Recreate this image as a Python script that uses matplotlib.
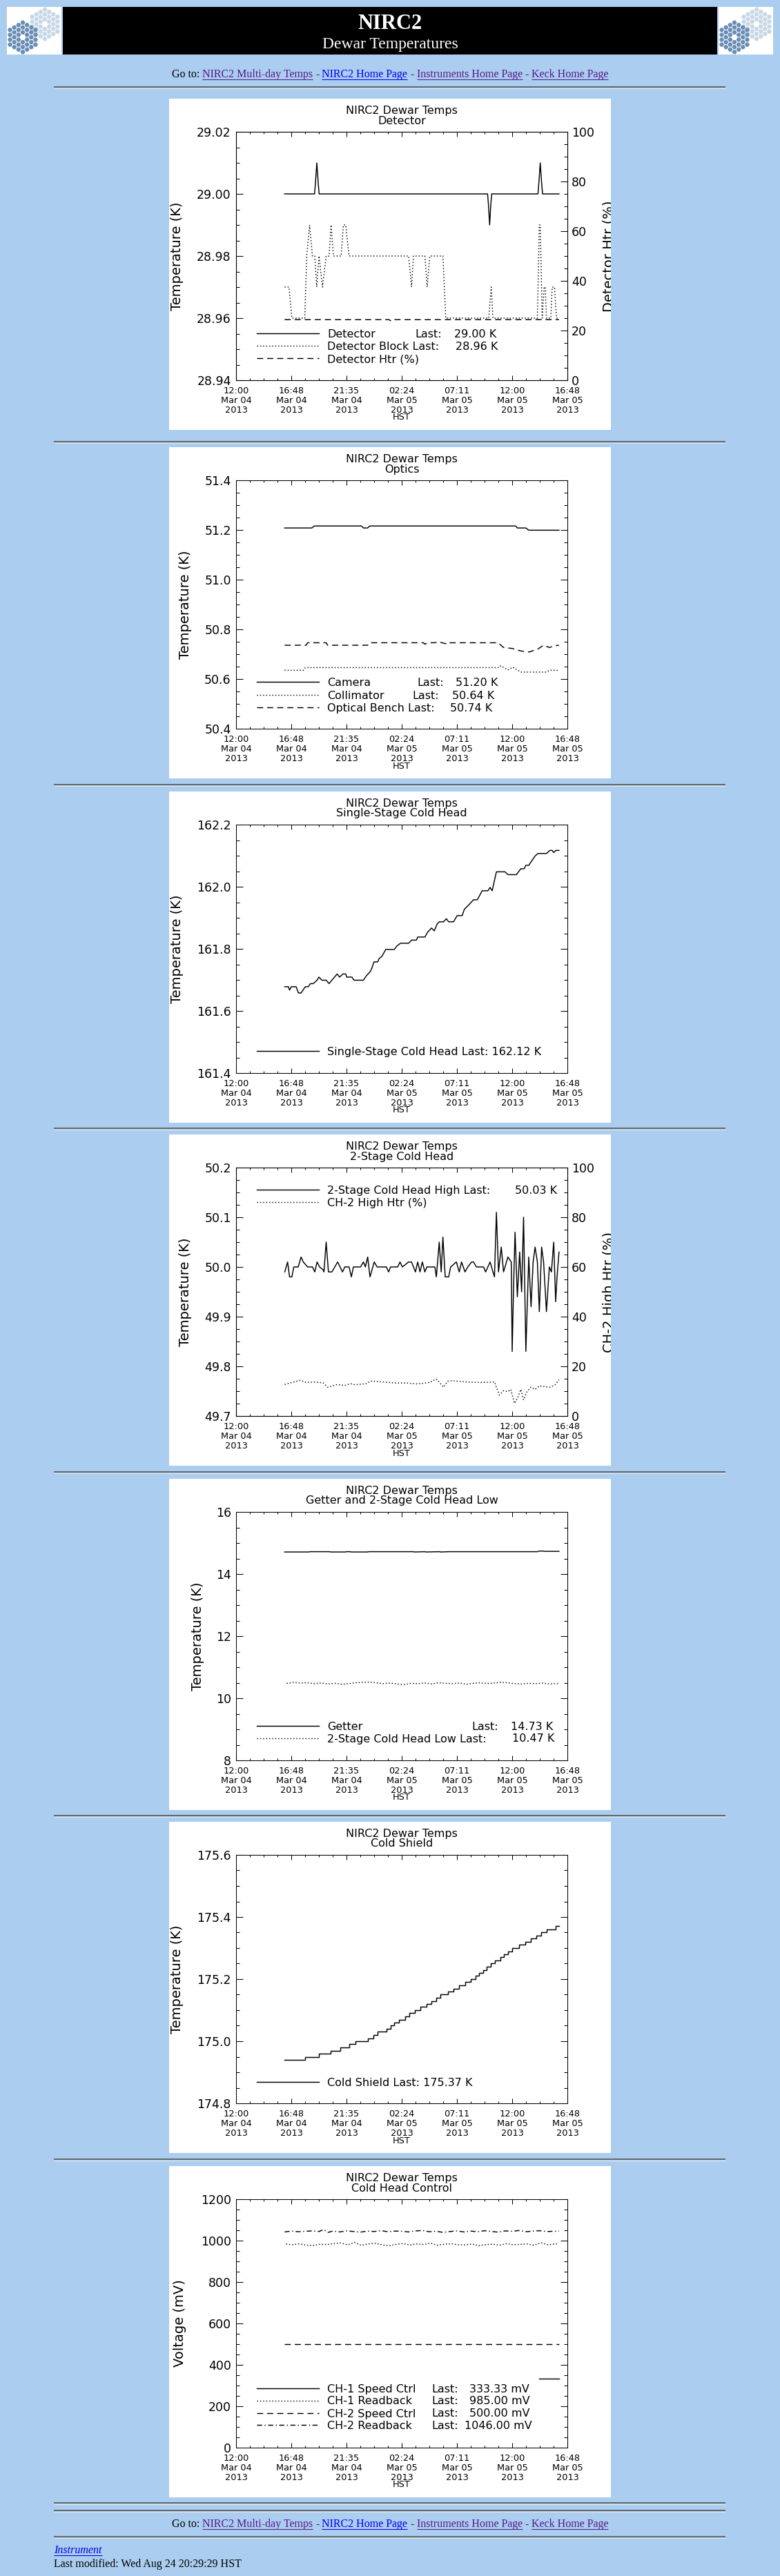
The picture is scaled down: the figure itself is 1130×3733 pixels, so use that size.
import numpy as np
import matplotlib
matplotlib.use("Agg")
import matplotlib.pyplot as plt
from matplotlib.patches import Rectangle, RegularPolygon
from matplotlib.ticker import MultipleLocator

plt.rcParams['font.family'] = ['DejaVu Sans']

W, H = 1130, 3733
BG = "#abcdef"
SERIF = "Liberation Serif"
PURPLE = "#551a8b"
BLUE = "#0000ee"

# time axis: hours after 12:00 Mar 04 2013 (HST)
x_ticks = [0, 4.8, 9.6, 14.4, 19.2, 24.0, 28.8]
x_labels = ["12:00\nMar 04\n2013", "16:48\nMar 04\n2013", "21:35\nMar 04\n2013",
            "02:24\nMar 05\n2013", "07:11\nMar 05\n2013", "12:00\nMar 05\n2013",
            "16:48\nMar 05\n2013"]

# ---- panel 1: detector ----
det_t = [4.22, 6.82, 6.90, 7.02, 7.14, 7.22, 21.86, 21.94, 22.04, 22.14, 22.22,
         26.24, 26.32, 26.44, 26.56, 26.64, 28.07]
det_v = [29.0, 29.0, 29.0035, 29.01, 29.0035, 29.0, 29.0, 28.9965, 28.99, 28.9965, 29.0,
         29.0, 29.0035, 29.01, 29.0035, 29.0, 29.0]
block_t = [4.22, 13.30, 13.50, 13.80, 28.07]
block_v = [28.9595, 28.9595, 28.9590, 28.9595, 28.9595]
htr_t = [4.22, 4.60, 4.85, 5.97, 6.14, 6.39, 6.64, 6.84, 7.01, 7.21,
         7.51, 7.83, 8.08, 8.26, 8.46, 9.13, 9.33, 9.53, 9.82, 15.00,
         15.25, 15.42, 16.41, 16.61, 16.84, 17.98, 18.23, 21.96, 22.18, 22.33,
         26.19, 26.36, 26.44, 26.61, 26.78, 26.88, 26.98, 27.36, 27.48, 27.68,
         27.85, 28.07]
htr_v = [37.5, 37.5, 25, 25, 50, 62.5, 50, 50, 37.5, 50,
         37.5, 50, 50, 62.5, 50, 50, 62.5, 62.5, 50, 50,
         37.5, 50, 50, 37.5, 50, 50, 25, 25, 37.5, 25,
         25, 62.5, 62.5, 25, 37.5, 37.5, 25, 25, 37.5, 37.5,
         25, 25]

# ---- panel 2: optics ----
cam_t = [4.22, 6.59, 6.79, 10.89, 11.07, 11.44, 11.61, 24.30, 24.45, 25.19, 25.44, 28.07]
cam_v = [51.208, 51.208, 51.216, 51.216, 51.208, 51.208, 51.216, 51.216, 51.208, 51.208,
         51.199, 51.199]
coll_t = [4.22, 5.84, 6.02, 22.88, 23.00, 23.63, 24.05, 24.75, 26.98, 27.23, 28.07]
coll_v = [50.635, 50.635, 50.646, 50.646, 50.653, 50.637, 50.648, 50.628, 50.628, 50.635, 50.635]
bench_t = [4.22, 6.09, 6.22, 7.83, 7.96, 11.44, 11.61, 16.29, 16.41, 16.66, 17.28, 17.53,
           17.91, 18.40, 18.53, 22.76, 23.25, 24.00, 24.75, 25.49, 26.24, 26.73, 27.23,
           27.73, 28.07]
bench_v = [50.736, 50.736, 50.746, 50.746, 50.736, 50.736, 50.746, 50.746, 50.740, 50.746,
           50.746, 50.750, 50.746, 50.740, 50.746, 50.746, 50.727, 50.723, 50.713, 50.709,
           50.721, 50.736, 50.727, 50.734, 50.736]

# ---- panel 3: single-stage cold head ----
ss_t = [4.23, 4.55, 4.65, 4.80, 5.22, 5.42, 5.65, 6.02, 6.27, 6.47,
        6.71, 7.04, 7.21, 7.46, 7.83, 8.08, 8.33, 8.78, 9.00, 9.28,
        9.53, 9.62, 10.07, 10.25, 11.07, 11.32, 11.69, 11.81, 11.99, 12.31,
        12.44, 12.68, 13.01, 13.75, 14.00, 14.30, 15.00, 15.25, 15.67, 15.79,
        16.41, 16.66, 16.99, 17.23, 17.48, 17.66, 18.03, 18.28, 18.48, 18.90,
        19.22, 19.65, 19.85, 20.14, 20.64, 20.97, 21.39, 21.89, 22.08, 22.26,
        22.63, 23.38, 23.63, 24.37, 24.75, 25.04, 25.19, 25.44, 25.99, 26.24,
        26.98, 27.28, 27.48, 27.61, 27.80, 28.07]
ss_v = [161.678, 161.678, 161.667, 161.678, 161.678, 161.658, 161.658, 161.678, 161.678, 161.688,
        161.688, 161.699, 161.709, 161.699, 161.699, 161.688, 161.699, 161.719, 161.709, 161.719,
        161.719, 161.709, 161.709, 161.699, 161.699, 161.713, 161.728, 161.739, 161.758, 161.758,
        161.769, 161.776, 161.798, 161.798, 161.810, 161.818, 161.818, 161.828, 161.828, 161.838,
        161.838, 161.854, 161.867, 161.858, 161.880, 161.887, 161.887, 161.897, 161.887, 161.887,
        161.907, 161.907, 161.928, 161.938, 161.958, 161.958, 161.987, 161.987, 161.998, 161.987,
        162.048, 162.048, 162.039, 162.039, 162.058, 162.058, 162.069, 162.069, 162.099, 162.107,
        162.107, 162.117, 162.117, 162.110, 162.117, 162.117]

# ---- panel 4: 2-stage cold head ----
ch2h_t = [4.23, 4.48, 4.65, 4.85, 5.02, 5.40, 5.65, 5.84, 6.22, 6.64,
          6.84, 7.04, 7.26, 7.54, 7.64, 7.83, 8.03, 8.33, 8.83, 9.25,
          9.45, 9.82, 10.02, 10.20, 10.82, 11.07, 11.24, 11.44, 11.64, 12.01,
          12.26, 13.06, 13.26, 13.43, 14.05, 14.25, 14.45, 15.00, 15.25, 15.59,
          15.79, 15.99, 16.19, 16.41, 16.59, 17.28, 17.41, 17.66, 17.83, 17.98,
          18.18, 18.48, 18.65, 19.15, 19.40, 19.60, 19.90, 20.14, 20.47, 20.64,
          20.89, 21.51, 21.69, 22.08, 22.46, 22.63, 22.81, 23.05, 23.25, 23.63,
          23.92, 24.00, 24.12, 24.25, 24.45, 24.65, 24.82, 24.99, 25.19, 25.44,
          25.64, 25.82, 25.99, 26.19, 26.36, 26.56, 26.73, 26.98, 27.23, 27.41,
          27.61, 27.78, 27.90, 28.07]
ch2h_v = [49.99, 50.01, 49.98, 49.98, 50.00, 50.00, 50.02, 50.01, 50.00, 50.00,
          49.99, 50.01, 50.00, 49.995, 49.99, 50.05, 49.99, 49.99, 50.01, 49.99,
          50.00, 50.00, 49.98, 50.00, 50.00, 50.01, 50.00, 50.02, 49.98, 50.01,
          50.00, 50.00, 49.99, 50.00, 50.00, 50.01, 50.00, 50.01, 50.01, 49.99,
          50.01, 49.99, 50.01, 49.99, 50.00, 50.00, 49.98, 50.05, 49.99, 50.06,
          49.98, 49.98, 50.00, 50.01, 49.99, 50.01, 49.99, 50.00, 50.01, 50.01,
          50.00, 50.00, 49.99, 50.01, 49.98, 50.11, 49.99, 50.04, 49.99, 50.02,
          50.01, 49.83, 49.96, 50.07, 49.94, 50.03, 49.95, 50.10, 49.83, 50.02,
          49.92, 50.01, 50.04, 50.01, 49.91, 50.04, 50.01, 49.91, 50.00, 49.99,
          50.05, 49.93, 49.98, 50.03]
ch2htr_t = [4.23, 4.85, 5.60, 6.09, 6.84, 7.59, 7.96, 8.33, 8.83, 9.45,
            9.95, 10.32, 11.32, 11.69, 12.81, 13.80, 14.80, 15.79, 16.79, 17.41,
            18.03, 18.40, 18.78, 20.02, 21.26, 22.46, 22.88, 23.25, 23.63, 23.88,
            24.20, 24.45, 24.75, 24.99, 25.29, 25.62, 25.99, 26.36, 26.86, 27.36,
            27.73, 28.07]
ch2htr_v = [12.7, 13.5, 14.4, 13.5, 13.7, 13.3, 11.6, 12.1, 12.7, 12.3,
            13.0, 12.6, 13.0, 14.1, 13.7, 13.3, 13.3, 12.9, 13.5, 14.9,
            11.6, 14.0, 14.2, 13.7, 13.5, 13.7, 8.4, 10.2, 9.8, 10.7,
            5.1, 7.0, 10.7, 6.5, 9.8, 11.6, 10.7, 12.1, 11.8, 11.6,
            12.6, 14.6]

# ---- panel 5: getter / 2-stage low ----
getter_t = [4.22, 6.30, 6.45, 8.10, 8.25, 9.50, 9.60, 9.90, 10.00, 11.40, 11.55, 15.40,
            15.50, 16.40, 16.50, 17.70, 17.80, 18.50, 26.20, 26.35, 26.70, 26.85, 28.07]
getter_v = [14.71, 14.71, 14.72, 14.72, 14.71, 14.71, 14.72, 14.72, 14.71, 14.71, 14.72, 14.72,
            14.71, 14.72, 14.71, 14.72, 14.71, 14.72, 14.72, 14.74, 14.74, 14.73, 14.73]
low_t = [4.40, 5.00, 5.60, 6.20, 6.80, 7.40, 8.00, 8.60, 9.20, 9.80,
         10.40, 11.00, 11.60, 12.20, 12.80, 13.40, 14.00, 14.60, 15.20, 15.80,
         16.40, 17.00, 17.60, 18.20, 18.80, 19.40, 20.00, 20.60, 21.20, 21.80,
         22.40, 23.00, 23.60, 24.20, 24.80, 25.40, 26.00, 26.60, 27.20, 27.80, 28.07]
low_v = [10.48, 10.51, 10.49, 10.50, 10.47, 10.49, 10.46, 10.48, 10.45, 10.47,
         10.50, 10.51, 10.52, 10.50, 10.47, 10.49, 10.46, 10.44, 10.48, 10.47,
         10.49, 10.46, 10.50, 10.48, 10.47, 10.49, 10.45, 10.48, 10.50, 10.47,
         10.49, 10.51, 10.50, 10.47, 10.46, 10.48, 10.47, 10.49, 10.46, 10.47, 10.47]

# ---- panel 6: cold shield ----
shield_t = [4.22, 6.02, 7.21, 8.21, 9.08, 9.82, 10.37, 11.44, 11.94, 12.31,
            13.06, 13.43, 13.75, 14.18, 14.67, 15.05, 15.54, 16.04, 16.54, 16.99,
            17.41, 17.78, 18.40, 18.90, 19.40, 19.90, 20.39, 20.82, 21.14, 21.46,
            21.76, 22.13, 22.51, 22.96, 23.25, 23.63, 24.00, 24.62, 25.12, 25.62,
            26.11, 26.54, 26.98, 27.78, 28.07]
shield_v = [174.94, 174.95, 174.96, 174.97, 174.98, 174.99, 175.00, 175.01, 175.02, 175.03,
            175.04, 175.05, 175.06, 175.07, 175.08, 175.09, 175.10, 175.11, 175.12, 175.13,
            175.14, 175.15, 175.16, 175.17, 175.18, 175.19, 175.20, 175.21, 175.22, 175.23,
            175.24, 175.25, 175.26, 175.27, 175.28, 175.29, 175.30, 175.31, 175.32, 175.33,
            175.34, 175.35, 175.36, 175.37, 175.37]

# ---- panel 7: cold head control ----
spd1_t = [26.36, 28.07]
spd1_v = [333.33, 333.33]
rb1_t = [4.35, 4.90, 5.50, 6.10, 6.70, 7.30, 7.90, 8.50, 9.10, 9.70,
         10.30, 10.90, 11.50, 12.10, 12.70, 13.30, 13.90, 14.50, 15.10, 15.70,
         16.30, 16.90, 17.50, 18.10, 18.70, 19.30, 19.90, 20.50, 21.10, 21.70,
         22.30, 22.90, 23.50, 24.10, 24.70, 25.30, 25.90, 26.50, 27.10, 27.70, 28.07]
rb1_v = [983, 980, 985, 978, 976, 983, 981, 986, 989, 979,
         991, 977, 984, 987, 980, 975, 982, 986, 979, 984,
         981, 988, 978, 983, 985, 980, 979, 984, 976, 981,
         983, 978, 985, 980, 982, 984, 978, 990, 980, 984, 985]
spd2_t = [4.22, 28.07]
spd2_v = [500, 500]
rb2_t = [4.22, 4.80, 5.40, 6.00, 6.60, 7.20, 7.60, 8.00, 8.40, 9.00,
         9.60, 10.20, 10.80, 11.40, 12.00, 12.60, 13.20, 13.80, 14.40, 15.00,
         15.60, 16.20, 16.80, 17.40, 18.00, 18.60, 19.20, 19.80, 20.40, 21.00,
         21.60, 22.20, 22.80, 23.40, 24.00, 24.60, 25.20, 25.80, 26.40, 27.00,
         27.60, 28.07]
rb2_v = [1042, 1046, 1043, 1045, 1047, 1044, 1053, 1040, 1046, 1042,
         1047, 1044, 1041, 1046, 1044, 1048, 1043, 1046, 1045, 1042,
         1047, 1049, 1043, 1045, 1040, 1044, 1047, 1042, 1046, 1043,
         1048, 1044, 1041, 1047, 1045, 1049, 1043, 1046, 1048, 1044,
         1045, 1046]

# ---- layout (pixels) ----
PX = 245
panel_tops = [143, 648, 1147, 1644, 2143, 2640, 3139]
hr_y = [126, 640, 1137, 1635, 2133, 2631, 3129, 3627, 3638, 3676]
AX_L, AX_R, AX_T, AX_B = 97, 577, 48, 408

LW = 1.05
SOLID = '-'
DOT = (0, (1, 2))
DASH = (0, (6, 4))
DASHDOT = (0, (5, 2.5, 1, 2.5))

fig = plt.figure(figsize=(W / 100, H / 100), dpi=100)
fig.patch.set_facecolor(BG)
page = fig.add_axes([0, 0, 1, 1])
page.set_xlim(0, W)
page.set_ylim(H, 0)
page.axis('off')
renderer = fig.canvas.get_renderer()


def draw_logo(x0, y0):
    box = Rectangle((x0, y0), 79, 69, facecolor='white', edgecolor='none')
    page.add_patch(box)
    s = 4.1
    for cx, cy, col in [(x0 + 55, y0 + 25, '#c8d7e6'), (x0 + 23, y0 + 44, '#6a8db5')]:
        for q in range(-3, 4):
            for r in range(-3, 4):
                d = max(abs(q), abs(r), abs(q + r))
                if d == 0 or d > 3:
                    continue
                hx = cx + 1.5 * s * q
                hy = cy + np.sqrt(3) * s * (r + q / 2)
                hexp = RegularPolygon((hx, hy), 6, radius=3.5, orientation=np.pi / 6,
                                      facecolor=col, edgecolor='none')
                page.add_patch(hexp)
                hexp.set_clip_path(box)


def text_run(pieces, y, size, x=None, center=None, style='normal'):
    objs = []
    for s, c, ul in pieces:
        t = page.text(0, y, s, fontsize=size, family=SERIF, color=c, style=style,
                      ha='left', va='baseline')
        objs.append((t, ul))
    gap = size * 100 / 72 * 0.25
    widths = [t.get_window_extent(renderer).width for t, _ in objs]
    total = sum(widths) + gap * (len(objs) - 1)
    cur = center - total / 2 if center is not None else x
    for (t, ul), w in zip(objs, widths):
        t.set_x(cur)
        if ul:
            page.plot([cur, cur + w], [y + 2.5, y + 2.5], color=t.get_color(), lw=0.75,
                      solid_capstyle='butt')
        cur += w + gap


# header
draw_logo(10, 10)
draw_logo(1041, 10)
page.add_patch(Rectangle((91, 10), 948, 69, facecolor='black', edgecolor='none'))
page.text(565, 41.5, "NIRC2", color='white', fontsize=22, fontweight='bold', family=SERIF,
          ha='center', va='baseline')
page.text(565, 70, "Dewar Temperatures", color='white', fontsize=17, family=SERIF,
          ha='center', va='baseline')

links = [("Go to:", 'black', False), ("NIRC2 Multi-day Temps", PURPLE, True), ("-", 'black', False),
         ("NIRC2 Home Page", BLUE, True), ("-", 'black', False),
         ("Instruments Home Page", PURPLE, True), ("-", 'black', False),
         ("Keck Home Page", PURPLE, True)]
text_run(links, 112, 11.5, center=565)
text_run(links, 3662, 11.5, center=565)
text_run([("Instrument", BLUE, True)], 3700, 11.5, x=78, style='italic')
text_run([("Last modified: Wed Aug 24 20:29:29 HST", 'black', False)], 3720, 11.5, x=78)

for y in hr_y:
    page.plot([78, 1051], [y, y], color='#555555', lw=1.2, solid_capstyle='butt')
    page.plot([78, 1051], [y + 1.5, y + 1.5], color='#e4e4e4', lw=0.8, solid_capstyle='butt')


def style_y(axis, pad):
    axis.tick_params(axis='y', which='both', direction='in', width=0.75, pad=pad, labelsize=12.5)
    axis.tick_params(axis='y', which='major', length=6.9)
    axis.tick_params(axis='y', which='minor', length=3.45)


def make_panel(top, subtitle, ylim, yticks, ylabels, yminor, ylabel, ylabel_x, twin=None):
    page.add_patch(Rectangle((PX, top), 640, 480, facecolor='white', edgecolor='none'))
    bg = fig.add_axes([PX / W, 1 - (top + 480) / H, 640 / W, 480 / H])
    bg.set_xlim(0, 640)
    bg.set_ylim(480, 0)
    bg.axis('off')
    ax = fig.add_axes([(PX + AX_L) / W, 1 - (top + AX_B) / H, (AX_R - AX_L) / W, (AX_B - AX_T) / H])
    ax.patch.set_alpha(0)
    ax.set_xlim(0, 28.8)
    ax.set_ylim(*ylim)
    ax.set_xticks(x_ticks, x_labels)
    ax.xaxis.set_minor_locator(MultipleLocator(1.2))
    ax.set_yticks(yticks, ylabels)
    ax.yaxis.set_minor_locator(MultipleLocator(yminor))
    ax.tick_params(axis='x', which='both', direction='in', top=True, width=0.75, pad=6.3,
                   labelsize=9.3)
    ax.tick_params(axis='x', which='major', length=5.0)
    ax.tick_params(axis='x', which='minor', length=2.5)
    for lbl in ax.get_xticklabels():
        lbl.set_linespacing(1.12)
    style_y(ax, 5.2)
    ax.tick_params(axis='y', which='both', right=twin is None)
    for sp in ax.spines.values():
        sp.set_linewidth(0.75)
    bg.text(337, 17.7, "NIRC2 Dewar Temps", fontsize=11.5, ha='center', va='center')
    bg.text(337, 32, subtitle, fontsize=11.5, ha='center', va='center')
    bg.text(ylabel_x, 228, ylabel, fontsize=14, rotation=90, ha='center', va='center')
    bg.text(337, 462, "HST", fontsize=9.3, ha='center', va='center')
    ax2 = None
    if twin is not None:
        ax2 = ax.twinx()
        ax2.set_ylim(0, 100)
        ax2.set_yticks([0, 20, 40, 60, 80, 100], ["0", "20", "40", "60", "80", "100"])
        ax2.yaxis.set_minor_locator(MultipleLocator(5))
        style_y(ax2, 4.3)
        t = bg.text(628, 228, twin, fontsize=14, rotation=90, ha='left', va='center',
                    clip_on=True)
        t.set_clip_box(bg.bbox)
    return bg, ax, ax2


def legend(bg, rows):
    for y, ls, pieces in rows:
        bg.plot([127, 217], [y, y], color='black', lw=LW, linestyle=ls)
        for x, s in pieces:
            bg.text(x, y + 1.5, s, fontsize=11.5, ha='left', va='center')


# panel 1
bg, ax, ax2 = make_panel(panel_tops[0], "Detector", (28.94, 29.02),
                         [28.94, 28.96, 28.98, 29.00, 29.02],
                         ["28.94", "28.96", "28.98", "29.00", "29.02"], 0.005,
                         "Temperature (K)", 11, twin="Detector Htr (%)")
ax.plot(det_t, det_v, color='black', lw=LW, linestyle=SOLID)
ax.plot(block_t, block_v, color='black', lw=LW, linestyle=DASH)
ax2.plot(htr_t, htr_v, color='black', lw=LW, linestyle=DOT)
legend(bg, [(340, SOLID, [(229, "Detector"), (356, "Last:"), (413, "29.00 K")]),
            (358, DOT, [(229, "Detector Block Last:"), (415, "28.96 K")]),
            (376, DASH, [(229, "Detector Htr (%)")])])

# panel 2
bg, ax, _ = make_panel(panel_tops[1], "Optics", (50.4, 51.4),
                       [50.4, 50.6, 50.8, 51.0, 51.2, 51.4],
                       ["50.4", "50.6", "50.8", "51.0", "51.2", "51.4"], 0.05,
                       "Temperature (K)", 24)
ax.plot(cam_t, cam_v, color='black', lw=LW, linestyle=SOLID)
ax.plot(coll_t, coll_v, color='black', lw=LW, linestyle=DOT)
ax.plot(bench_t, bench_v, color='black', lw=LW, linestyle=DASH)
legend(bg, [(340, SOLID, [(229, "Camera"), (359, "Last:"), (415, "51.20 K")]),
            (358.7, DOT, [(229, "Collimator"), (352, "Last:"), (410, "50.64 K")]),
            (377, DASH, [(229, "Optical Bench Last:"), (407, "50.74 K")])])

# panel 3
bg, ax, _ = make_panel(panel_tops[2], "Single-Stage Cold Head", (161.4, 162.2),
                       [161.4, 161.6, 161.8, 162.0, 162.2],
                       ["161.4", "161.6", "161.8", "162.0", "162.2"], 0.05,
                       "Temperature (K)", 11)
ax.plot(ss_t, ss_v, color='black', lw=LW, linestyle=SOLID)
legend(bg, [(376, SOLID, [(229, "Single-Stage Cold Head Last: 162.12 K")])])

# panel 4
bg, ax, ax2 = make_panel(panel_tops[3], "2-Stage Cold Head", (49.7, 50.2),
                         [49.7, 49.8, 49.9, 50.0, 50.1, 50.2],
                         ["49.7", "49.8", "49.9", "50.0", "50.1", "50.2"], 0.025,
                         "Temperature (K)", 24, twin="CH-2 High Htr (%)")
ax.plot(ch2h_t, ch2h_v, color='black', lw=LW, linestyle=SOLID)
ax2.plot(ch2htr_t, ch2htr_v, color='black', lw=LW, linestyle=DOT)
legend(bg, [(80, SOLID, [(229, "2-Stage Cold Head High Last:"), (501, "50.03 K")]),
            (98, DOT, [(229, "CH-2 High Htr (%)")])])

# panel 5
bg, ax, _ = make_panel(panel_tops[4], "Getter and 2-Stage Cold Head Low", (8, 16),
                       [8, 10, 12, 14, 16], ["8", "10", "12", "14", "16"], 0.5,
                       "Temperature (K)", 42)
ax.plot(getter_t, getter_v, color='black', lw=LW, linestyle=SOLID)
ax.plot(low_t, low_v, color='black', lw=LW, linestyle=DOT)
legend(bg, [(358, SOLID, [(229, "Getter"), (438, "Last:"), (495, "14.73 K")]),
            (375.5, DOT, [(229, "2-Stage Cold Head Low Last:"), (497, "10.47 K")])])

# panel 6
bg, ax, _ = make_panel(panel_tops[5], "Cold Shield", (174.8, 175.6),
                       [174.8, 175.0, 175.2, 175.4, 175.6],
                       ["174.8", "175.0", "175.2", "175.4", "175.6"], 0.05,
                       "Temperature (K)", 11)
ax.plot(shield_t, shield_v, color='black', lw=LW, linestyle=SOLID, drawstyle='steps-post')
legend(bg, [(377, SOLID, [(229, "Cold Shield Last: 175.37 K")])])

# panel 7
bg, ax, _ = make_panel(panel_tops[6], "Cold Head Control", (0, 1200),
                       [0, 200, 400, 600, 800, 1000, 1200],
                       ["0", "200", "400", "600", "800", "1000", "1200"], 50,
                       "Voltage (mV)", 16)
ax.plot(spd1_t, spd1_v, color='black', lw=LW, linestyle=SOLID)
ax.plot(rb1_t, rb1_v, color='black', lw=LW, linestyle=DOT)
ax.plot(spd2_t, spd2_v, color='black', lw=LW, linestyle=DASH)
ax.plot(rb2_t, rb2_v, color='black', lw=LW, linestyle=DASHDOT)
legend(bg, [(322, SOLID, [(229, "CH-1 Speed Ctrl"), (380, "Last:"), (434.5, "333.33 mV")]),
            (339.5, DOT, [(229, "CH-1 Readback"), (380, "Last:"), (435, "985.00 mV")]),
            (357.5, DASH, [(229, "CH-2 Speed Ctrl"), (380, "Last:"), (434.5, "500.00 mV")]),
            (375, DASHDOT, [(229, "CH-2 Readback"), (380, "Last:"), (428, "1046.00 mV")])])

fig.savefig("out.png", dpi=100, facecolor=BG)
